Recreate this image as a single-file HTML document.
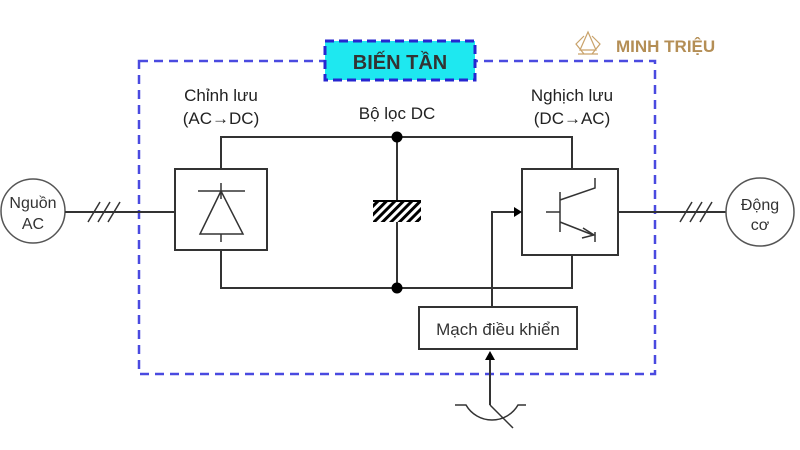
<!DOCTYPE html>
<html><head><meta charset="utf-8"><style>
body{margin:0;background:#fff;}
svg{display:block;font-family:"Liberation Sans","DejaVu Sans",sans-serif;}
</style></head><body>
<svg width="800" height="450" viewBox="0 0 800 450">
<defs>
<pattern id="h" width="6" height="6" patternUnits="userSpaceOnUse" patternTransform="rotate(45)">
<rect width="6" height="6" fill="#fff"/><rect width="3" height="6" fill="#000"/></pattern>
<marker id="ar" markerWidth="8" markerHeight="8" refX="7" refY="4" orient="auto" markerUnits="userSpaceOnUse"><path d="M0,0 L8,4 L0,8z" fill="#000"/></marker>
</defs>
<!-- outer dashed -->
<rect x="139" y="61" width="516" height="313" fill="none" stroke="#4a4ae0" stroke-width="2.5" stroke-dasharray="9,6"/>
<rect x="325" y="41" width="150" height="39" fill="#1ee8f0" stroke="#2626d0" stroke-width="3" stroke-dasharray="9,5"/>
<text x="400" y="69" font-size="20" font-weight="bold" text-anchor="middle" fill="#333">BIẾN TẦN</text>
<!-- logo -->
<g fill="none" stroke="#c9a26a" stroke-width="1.2"><path d="M580,50 L588,32 L596,50 Z M584,36 L576,44 L584,54 M592,36 L600,44 L592,54 M578,54 L598,54"/></g>
<text x="616" y="52" font-size="17" font-weight="bold" fill="#b48e55">MINH TRIỆU</text>
<!-- labels -->
<g font-size="17" fill="#222" text-anchor="middle">
<text x="221" y="101">Chỉnh lưu</text><text x="221" y="124">(AC→DC)</text>
<text x="397" y="119">Bộ lọc DC</text>
<text x="572" y="101">Nghịch lưu</text><text x="572" y="124">(DC→AC)</text>
</g>
<g stroke="#333" stroke-width="2" fill="none">
<!-- buses -->
<path d="M221,169 V137 H572 V169"/>
<path d="M221,250 V288 H572 V255"/>
<path d="M397,137 V288"/>
<!-- source -->
<circle cx="33" cy="211" r="32" stroke="#555" stroke-width="1.5"/>
<path d="M65,212 H175"/>
<path d="M88,222 L100,202 M98,222 L110,202 M108,222 L120,202" stroke-width="1.5"/>
<rect x="175" y="169" width="92" height="81" fill="#fff"/>
<path d="M198,191 H245 M221,183 V199 M221,191 L200,234 H243 Z M221,234 V242" stroke-width="1.5"/>
<!-- inverter -->
<rect x="522" y="169" width="96" height="86" fill="#fff"/>
<path d="M546,212 H560 M560,192 V232 M560,200 L595,188 V178 M560,222 L593,235 M595,232 V242" stroke-width="1.5"/>
<path d="M583,228 L594,235 L582,238" stroke-width="1.5"/>
<path d="M618,212 H726"/>
<path d="M680,222 L692,202 M690,222 L702,202 M700,222 L712,202" stroke-width="1.5"/>
<circle cx="760" cy="212" r="34" stroke="#555" stroke-width="1.5"/>
<!-- control -->
<path d="M492,307 V212 H514"/>
<rect x="419" y="307" width="158" height="42" fill="#fff"/>
<path d="M490,405 V358" />
<path d="M455,405 H466 A30,30 0 0 0 518,405 H526 M490,405 L513,428" stroke-width="1.5"/>
</g>
<rect x="373" y="200" width="48" height="22" fill="url(#h)"/>
<rect x="373" y="200" width="48" height="2" fill="#000"/>
<path d="M514,207 L522,212 L514,217Z" fill="#000"/>
<path d="M485,360 L490,351 L495,360Z" fill="#000"/>
<circle cx="397" cy="137" r="5.5" fill="#000"/>
<circle cx="397" cy="288" r="5.5" fill="#000"/>
<g font-size="16" fill="#333" text-anchor="middle">
<text x="33" y="208">Nguồn</text><text x="33" y="229">AC</text>
<text x="760" y="210">Động</text><text x="760" y="230">cơ</text>
<text x="498" y="335" font-size="17">Mạch điều khiển</text>
</g>
</svg>
</body></html>
